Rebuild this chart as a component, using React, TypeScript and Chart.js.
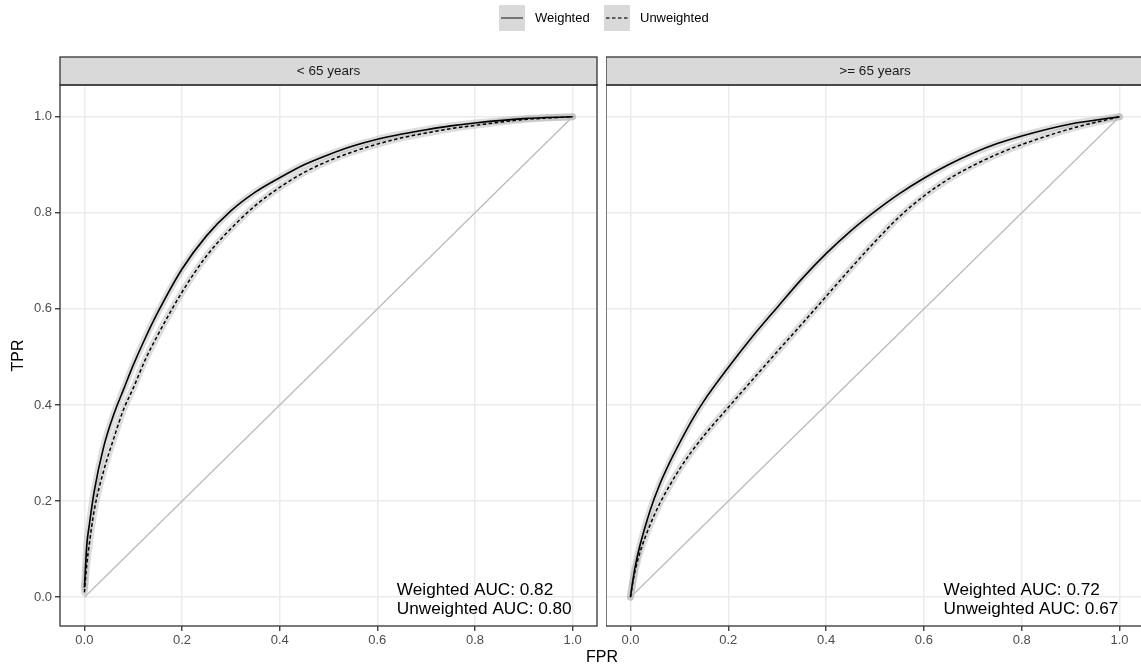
import React, { useEffect, useRef } from "react";
import { Chart, registerables } from "chart.js";

Chart.register(...registerables);

// ---------- data ----------
const FPR = [0, 0.005, 0.01, 0.02, 0.04, 0.06, 0.08, 0.1, 0.125, 0.15, 0.2, 0.25, 0.3, 0.35, 0.4, 0.45, 0.5, 0.55, 0.6, 0.65, 0.7, 0.75, 0.8, 0.9, 1.0];

const UNDER65_WEIGHTED = [0.02, 0.11, 0.15, 0.22, 0.315, 0.38, 0.432, 0.483, 0.54, 0.592, 0.683, 0.752, 0.804, 0.843, 0.873, 0.9, 0.921, 0.939, 0.953, 0.964, 0.973, 0.981, 0.987, 0.996, 1.0];
const UNDER65_UNWEIGHTED = [0.01, 0.07, 0.11, 0.18, 0.265, 0.33, 0.39, 0.435, 0.495, 0.545, 0.635, 0.71, 0.767, 0.815, 0.853, 0.884, 0.908, 0.927, 0.943, 0.956, 0.966, 0.975, 0.982, 0.994, 1.0];

const OVER65_WEIGHTED = [0.0, 0.035, 0.065, 0.11, 0.18, 0.235, 0.28, 0.32, 0.367, 0.408, 0.478, 0.543, 0.603, 0.662, 0.715, 0.762, 0.803, 0.84, 0.872, 0.9, 0.924, 0.944, 0.96, 0.985, 1.0];
const OVER65_UNWEIGHTED = [0.0, 0.032, 0.057, 0.095, 0.15, 0.195, 0.232, 0.266, 0.303, 0.336, 0.395, 0.453, 0.511, 0.568, 0.626, 0.684, 0.74, 0.792, 0.835, 0.87, 0.898, 0.922, 0.942, 0.975, 1.0];

const DIAGONAL_X = [0, 1];
const DIAGONAL_Y = [0, 1];

const STRIP_LABELS = ["< 65 years", ">= 65 years"];
const AUC_UNDER65 = ["Weighted AUC: 0.82", "Unweighted AUC: 0.80"];
const AUC_OVER65 = ["Weighted AUC: 0.72", "Unweighted AUC: 0.67"];
const SERIES_LABELS = ["Weighted", "Unweighted"];

const X_TICKS = [0, 0.2, 0.4, 0.6, 0.8, 1.0];
const Y_TICKS = [0, 0.2, 0.4, 0.6, 0.8, 1.0];

const X_TITLE = "FPR";
const Y_TITLE = "TPR";

// ---------- styling / layout ----------
const FONT = '"Liberation Sans", Arial, Helvetica, sans-serif';
const BAND = "rgba(165,165,165,0.38)";
const GRID = "#EBEBEB";
const DARK = "#333333";
const AUC_X = 0.64;
const AUC_Y = [0.015, -0.025];
const STRIP_TOP = 57;

Chart.defaults.font.family = FONT;

const pts = (xs: number[], ys: number[]) => xs.map((x, i) => ({ x, y: ys[i] }));

const facetPlugin = {
  id: "facetDecor",
  afterDraw(chart: any, _args: any, opts: any) {
    const { ctx, chartArea: a } = chart;
    ctx.save();
    // strip
    ctx.fillStyle = "#D9D9D9";
    ctx.fillRect(a.left, STRIP_TOP, a.right - a.left, a.top - STRIP_TOP);
    ctx.strokeStyle = DARK;
    ctx.lineWidth = 1.3;
    ctx.strokeRect(a.left, STRIP_TOP, a.right - a.left, a.top - STRIP_TOP);
    ctx.strokeRect(a.left, a.top, a.right - a.left, a.bottom - a.top);
    ctx.fillStyle = "#1A1A1A";
    ctx.font = `13.5px ${FONT}`;
    ctx.textAlign = "center";
    ctx.textBaseline = "middle";
    ctx.fillText(opts.strip, (a.left + a.right) / 2, (STRIP_TOP + a.top) / 2 + 0.5);
    // AUC annotation
    const xs = chart.scales.x;
    const ys = chart.scales.y;
    ctx.fillStyle = "#000000";
    ctx.font = `17.2px ${FONT}`;
    ctx.textAlign = "left";
    (opts.lines as string[]).forEach((t, i) => {
      ctx.fillText(t, xs.getPixelForValue(AUC_X), ys.getPixelForValue(AUC_Y[i]));
    });
    ctx.restore();
  },
};

function makeConfig(weighted: number[], unweighted: number[], strip: string, lines: string[], first: boolean, rightPad: number) {
  const curve = { pointRadius: 0, cubicInterpolationMode: "monotone", fill: false };
  return {
    type: "line",
    data: {
      datasets: [
        { ...curve, label: "band-w", data: pts(FPR, weighted), borderColor: BAND, borderWidth: 7, borderCapStyle: "round", order: 4 },
        { ...curve, label: "band-u", data: pts(FPR, unweighted), borderColor: BAND, borderWidth: 7, borderCapStyle: "round", order: 3 },
        { ...curve, label: "diag", data: pts(DIAGONAL_X, DIAGONAL_Y), borderColor: "#BDBDBD", borderWidth: 1.4, order: 2 },
        { ...curve, label: SERIES_LABELS[1], data: pts(FPR, unweighted), borderColor: "#000000", borderWidth: 1.5, borderDash: [3.5, 2.5], order: 1 },
        { ...curve, label: SERIES_LABELS[0], data: pts(FPR, weighted), borderColor: "#000000", borderWidth: 1.6, order: 0 },
      ],
    },
    options: {
      responsive: false,
      animation: false,
      devicePixelRatio: 1,
      layout: { padding: { top: 85, right: rightPad, left: 0, bottom: 0 } },
      plugins: {
        legend: { display: false },
        tooltip: { enabled: false },
        facetDecor: { strip, lines },
      },
      scales: {
        x: {
          type: "linear",
          min: -0.05,
          max: 1.05,
          afterBuildTicks: (s: any) => {
            s.ticks = X_TICKS.map((v) => ({ value: v }));
          },
          afterFit: (s: any) => {
            s.height = 44;
          },
          ticks: {
            callback: (v: any) => Number(v).toFixed(1),
            color: "#4D4D4D",
            font: { size: 13 },
            padding: 2,
            maxRotation: 0,
            autoSkip: false,
          },
          grid: { color: GRID, lineWidth: 1.5, tickColor: DARK, tickLength: 5, tickWidth: 1.3 },
          border: { display: false },
        },
        y: {
          type: "linear",
          min: -0.06,
          max: 1.066,
          afterBuildTicks: (s: any) => {
            s.ticks = Y_TICKS.map((v) => ({ value: v }));
          },
          afterFit: (s: any) => {
            s.width = first ? 60 : 0;
          },
          ticks: {
            display: first,
            callback: (v: any) => Number(v).toFixed(1),
            color: "#4D4D4D",
            font: { size: 13 },
            padding: 3,
            autoSkip: false,
          },
          grid: { color: GRID, lineWidth: 1.5, tickColor: DARK, tickLength: 5, tickWidth: 1.3, drawTicks: first },
          border: { display: false },
          title: {
            display: first,
            text: Y_TITLE,
            color: "#000000",
            font: { size: 16 },
            padding: { top: 9, bottom: 0 },
          },
        },
      },
    },
    plugins: [facetPlugin],
  };
}

function Panel(props: { left: number; width: number; weighted: number[]; unweighted: number[]; strip: string; lines: string[]; first: boolean; rightPad: number }) {
  const ref = useRef<HTMLCanvasElement | null>(null);
  useEffect(() => {
    if (!ref.current) return;
    const chart = new Chart(ref.current, makeConfig(props.weighted, props.unweighted, props.strip, props.lines, props.first, props.rightPad) as any);
    return () => chart.destroy();
  }, []);
  return (
    <canvas
      ref={ref}
      width={props.width}
      height={670}
      style={{ position: "absolute", left: props.left, top: 0, width: props.width, height: 670 }}
    />
  );
}

export default function App() {
  const textStyle: React.CSSProperties = {
    position: "absolute",
    font: `13px ${FONT}`,
    color: "#000000",
    lineHeight: "16px",
    whiteSpace: "nowrap",
  };
  return (
    <div style={{ position: "fixed", left: 0, top: 0, width: 1141, height: 670, overflow: "hidden", background: "#ffffff" }}>
      <Panel left={0} width={600} weighted={UNDER65_WEIGHTED} unweighted={UNDER65_UNWEIGHTED} strip={STRIP_LABELS[0]} lines={AUC_UNDER65} first={true} rightPad={3} />
      <Panel left={606} width={540} weighted={OVER65_WEIGHTED} unweighted={OVER65_UNWEIGHTED} strip={STRIP_LABELS[1]} lines={AUC_OVER65} first={false} rightPad={2} />
      {/* legend */}
      <svg width={26} height={26} style={{ position: "absolute", left: 499, top: 5 }}>
        <rect x={0} y={0} width={26} height={26} fill="#D9D9D9" />
        <line x1={2} y1={13} x2={24} y2={13} stroke="#555555" strokeWidth={1.5} />
      </svg>
      <div style={{ ...textStyle, left: 535, top: 10 }}>{SERIES_LABELS[0]}</div>
      <svg width={26} height={26} style={{ position: "absolute", left: 604, top: 5 }}>
        <rect x={0} y={0} width={26} height={26} fill="#D9D9D9" />
        <line x1={2} y1={13} x2={24} y2={13} stroke="#333333" strokeWidth={1.5} strokeDasharray="3.5 2.5" />
      </svg>
      <div style={{ ...textStyle, left: 640, top: 10 }}>{SERIES_LABELS[1]}</div>
      {/* x title */}
      <div style={{ ...textStyle, font: `16px ${FONT}`, lineHeight: "19px", left: 602, top: 647, transform: "translateX(-50%)" }}>{X_TITLE}</div>
    </div>
  );
}
